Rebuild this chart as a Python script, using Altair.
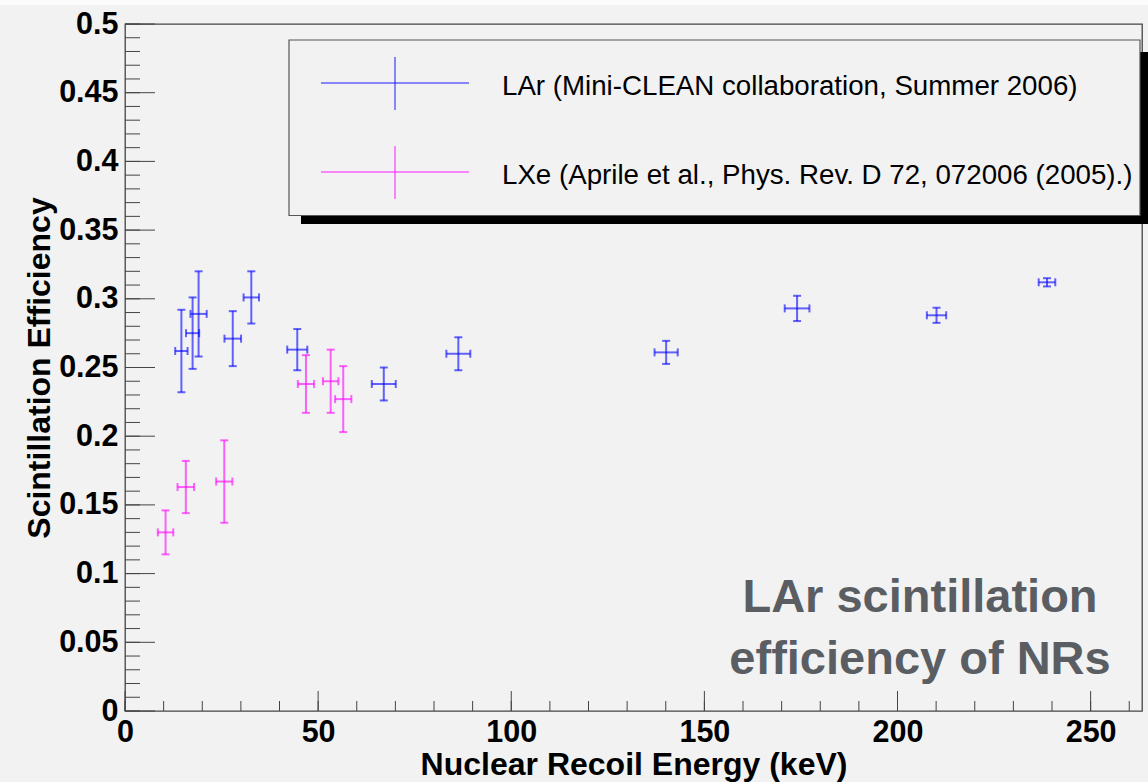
import altair as alt
import pandas as pd

# ---------------- data ----------------
lar_energy = [14.6, 17.5, 19.05, 27.9, 32.7, 44.6, 67.0, 86.3, 140.1, 174.0, 210.1, 238.7]
lar_energy_err = [1.6, 1.7, 2.1, 2.15, 2.0, 2.6, 3.1, 3.1, 3.0, 3.2, 2.5, 2.15]
lar_eff = [0.262, 0.275, 0.289, 0.271, 0.301, 0.263, 0.238, 0.260, 0.261, 0.293, 0.288, 0.312]
lar_eff_err = [0.030, 0.026, 0.031, 0.020, 0.019, 0.015, 0.012, 0.012, 0.0084, 0.0092, 0.0055, 0.003]

lxe_energy = [10.5, 15.75, 25.7, 46.85, 53.25, 56.5]
lxe_energy_err = [2.0, 2.15, 2.1, 2.1, 2.0, 2.1]
lxe_eff = [0.130, 0.163, 0.167, 0.238, 0.240, 0.227]
lxe_eff_err = [0.016, 0.019, 0.030, 0.021, 0.023, 0.024]

series_names = [
    "LAr (Mini-CLEAN collaboration, Summer 2006)",
    "LXe (Aprile et al., Phys. Rev. D 72, 072006 (2005).)",
]
series_colors = ["#0000ff", "#ff00ff"]

x_major = [0, 50, 100, 150, 200, 250]
x_minor = list(range(0, 261, 10))
y_major = [0, 0.05, 0.1, 0.15, 0.2, 0.25, 0.3, 0.35, 0.4, 0.45, 0.5]
y_minor = [i / 100 for i in range(51)]

annotation_lines = ["LAr scintillation", "efficiency of NRs"]
x_title = "Nuclear Recoil Energy (keV)"
y_title = "Scintillation Efficiency"

# ---------------- tables ----------------
def make_frame(e, ee, f, fe, name):
    return pd.DataFrame({
        "energy": e,
        "elo": [a - b for a, b in zip(e, ee)],
        "ehi": [a + b for a, b in zip(e, ee)],
        "eff": f,
        "flo": [a - b for a, b in zip(f, fe)],
        "fhi": [a + b for a, b in zip(f, fe)],
        "series": name,
    })

points = pd.concat([
    make_frame(lar_energy, lar_energy_err, lar_eff, lar_eff_err, series_names[0]),
    make_frame(lxe_energy, lxe_energy_err, lxe_eff, lxe_eff_err, series_names[1]),
], ignore_index=True)

W, H = 1017, 687
FONT = "Liberation Sans"

xs = alt.Scale(domain=[0, 263.3], nice=False, zero=False)
ys = alt.Scale(domain=[0, 0.5], nice=False, zero=False)

x_axis = alt.Axis(values=x_major, ticks=False, domain=False, grid=False,
                  labelFont=FONT, labelFontWeight="bold", labelFontSize=30.5,
                  labelColor="black", labelPadding=6, labelFlush=False,
                  titleFont=FONT, titleFontWeight="bold", titleFontSize=32,
                  titleColor="black", titleY=63, titleBaseline="alphabetic")
y_axis = alt.Axis(values=y_major, ticks=False, domain=False, grid=False, format="~g",
                  labelFont=FONT, labelFontWeight="bold", labelFontSize=30.5,
                  labelColor="black", labelPadding=7, labelFlush=False,
                  titleFont=FONT, titleFontWeight="bold", titleFontSize=32,
                  titleColor="black", titleX=-76, titleY=H / 2,
                  titleBaseline="alphabetic", titleAngle=270, titleAlign="center")


def X(field):
    return alt.X(field, type="quantitative", scale=xs, axis=x_axis, title=x_title)


def Y(field):
    return alt.Y(field, type="quantitative", scale=ys, axis=y_axis, title=y_title)


color = alt.Color("series:N", scale=alt.Scale(domain=series_names, range=series_colors), legend=None)

base = alt.Chart(points)
OP = 0.6
vbar = base.mark_rule(strokeWidth=2, opacity=OP).encode(x=X("energy"), y=Y("flo"), y2="fhi", color=color)
hbar = base.mark_rule(strokeWidth=2, opacity=OP).encode(x=X("elo"), x2="ehi", y=Y("eff"), color=color)
cap_lo = base.mark_tick(orient="horizontal", size=8, thickness=2, opacity=OP).encode(x=X("energy"), y=Y("flo"), color=color)
cap_hi = base.mark_tick(orient="horizontal", size=8, thickness=2, opacity=OP).encode(x=X("energy"), y=Y("fhi"), color=color)
cap_l = base.mark_tick(orient="vertical", size=8, thickness=2, opacity=OP).encode(x=X("elo"), y=Y("eff"), color=color)
cap_r = base.mark_tick(orient="vertical", size=8, thickness=2, opacity=OP).encode(x=X("ehi"), y=Y("eff"), color=color)

TICK = "#444444"
ymaj = alt.Chart(pd.DataFrame({"v": y_major})).mark_rule(color=TICK, strokeWidth=1).encode(
    y=Y("v"), x=alt.value(0), x2=alt.value(30))
ymin = alt.Chart(pd.DataFrame({"v": y_minor})).mark_rule(color=TICK, strokeWidth=1).encode(
    y=Y("v"), x=alt.value(0), x2=alt.value(15))
xmaj = alt.Chart(pd.DataFrame({"v": x_major})).mark_rule(color=TICK, strokeWidth=1).encode(
    x=X("v"), y=alt.value(H), y2=alt.value(H - 20))
xmin = alt.Chart(pd.DataFrame({"v": x_minor})).mark_rule(color=TICK, strokeWidth=1).encode(
    x=X("v"), y=alt.value(H), y2=alt.value(H - 10))

one = pd.DataFrame({"a": [0]})
top_band = alt.Chart(one).mark_rect(color="#fbfbfb").encode(
    x=alt.value(-125), x2=alt.value(1023), y=alt.value(-24), y2=alt.value(-19))
shadow = alt.Chart(one).mark_rect(color="black").encode(
    x=alt.value(176), x2=alt.value(1024), y=alt.value(28), y2=alt.value(200))
box = alt.Chart(one).mark_rect(fill="#f2f2f2", stroke="#555555", strokeWidth=1.2).encode(
    x=alt.value(164), x2=alt.value(1015), y=alt.value(16), y2=alt.value(191.5))

legend_layers = []
entry_y = [59, 148]
for i, name in enumerate(series_names):
    cy = entry_y[i]
    c = series_colors[i]
    legend_layers.append(alt.Chart(one).mark_rule(color=c, strokeWidth=1.5, opacity=0.6).encode(
        x=alt.value(196), x2=alt.value(344), y=alt.value(cy)))
    legend_layers.append(alt.Chart(one).mark_rule(color=c, strokeWidth=1.5, opacity=0.6).encode(
        x=alt.value(270), y=alt.value(cy - 26), y2=alt.value(cy + 27)))
    legend_layers.append(alt.Chart(pd.DataFrame({"t": [name]})).mark_text(
        font=FONT, fontSize=27.7, color="black", align="left", baseline="alphabetic").encode(
        x=alt.value(377), y=alt.value(cy + 12), text="t:N"))

ann_layers = []
for i, line in enumerate(annotation_lines):
    ann_layers.append(alt.Chart(pd.DataFrame({"t": [line]})).mark_text(
        font=FONT, fontSize=47, fontWeight="bold", color="#5a5e63", align="center",
        baseline="alphabetic").encode(x=alt.value(795), y=alt.value(588 + 61.6 * i), text="t:N"))

chart = alt.layer(
    top_band, ymin, ymaj, xmin, xmaj,
    *ann_layers,
    vbar, hbar, cap_lo, cap_hi, cap_l, cap_r,
    shadow, box, *legend_layers,
).properties(
    width=W, height=H,
    padding={"left": 125, "top": 24, "right": 6, "bottom": 71},
    autosize=alt.AutoSizeParams(type="none"),
).configure(background="#f2f2f2").configure_view(stroke="#444444", strokeWidth=1.3)

chart.save("out.html", embed_options={"renderer": "svg", "actions": False})
